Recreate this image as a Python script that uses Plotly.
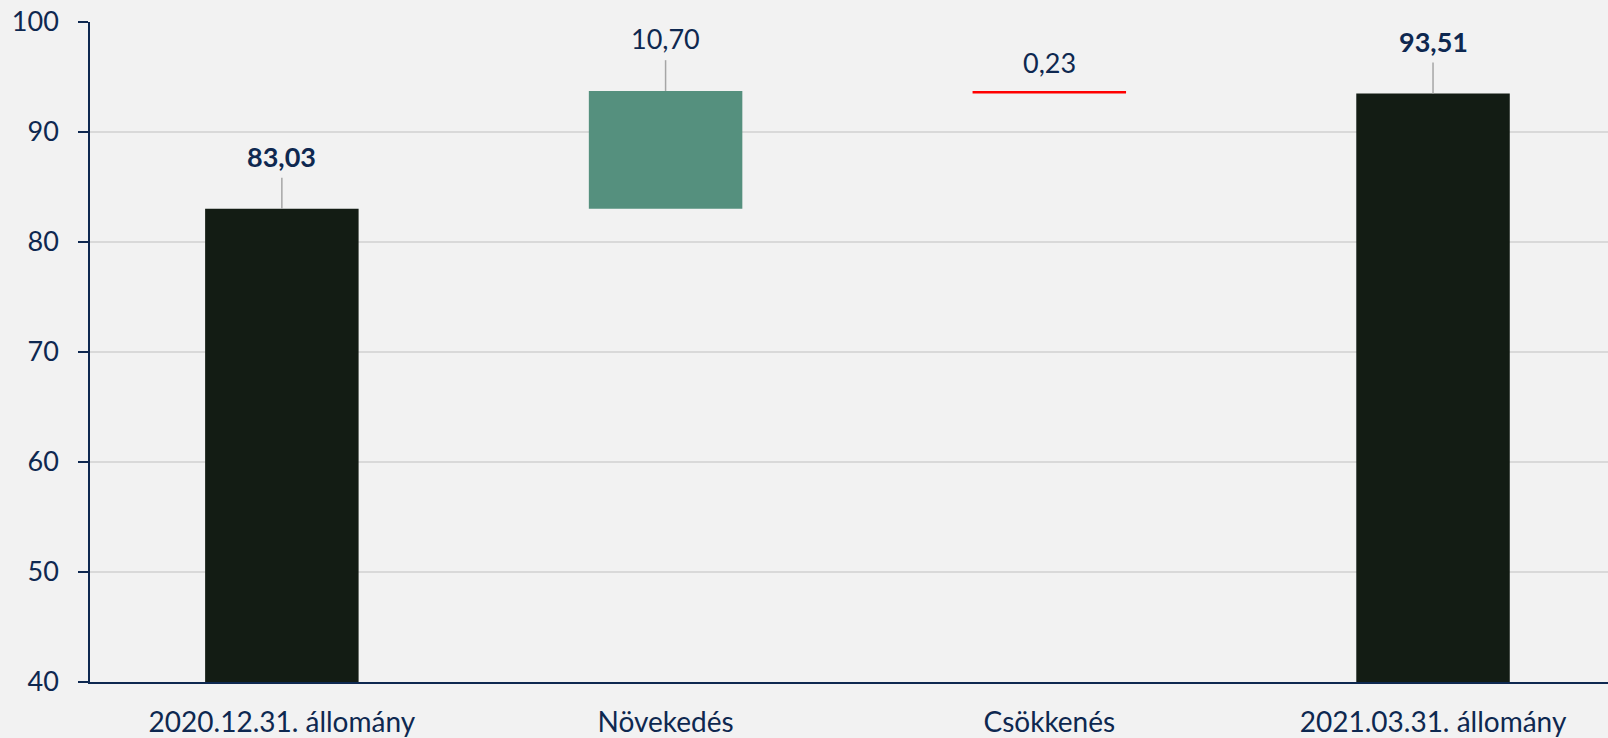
import plotly.graph_objects as go

categories = ["2020.12.31. állomány", "Növekedés", "Csökkenés", "2021.03.31. állomány"]
start_value = 83.03
increase = 10.70
decrease = 0.23
end_value = 93.51
label_texts = ["83,03", "10,70", "0,23", "93,51"]
label_bold = [True, False, False, True]
show_leader = [True, True, False, True]
bar_colors = ["#131C14", "#55907E", "#FF0000", "#131C14"]

bases = [0, start_value, start_value + increase - decrease, 0]
heights = [start_value, increase, decrease, end_value]
tops = [b + h for b, h in zip(bases, heights)]

NAVY = "#0E2850"
FONT = "Lato"
FS = 27

fig = go.Figure()
fig.add_trace(go.Bar(
    x=categories, y=heights, base=bases,
    marker=dict(color=bar_colors, line=dict(width=0)),
    width=0.4, hoverinfo="skip",
))

annotations = []
shapes = []
for i, cat in enumerate(categories):
    txt = f"<b>{label_texts[i]}</b>" if label_bold[i] else label_texts[i]
    shift = 52 if show_leader[i] else 28
    annotations.append(dict(
        x=cat, y=tops[i], xref="x", yref="y", text=txt, showarrow=False,
        yshift=shift, font=dict(family=FONT, size=FS, color=NAVY),
    ))
    if show_leader[i]:
        shapes.append(dict(
            type="line", xref="x", yref="y", x0=i, x1=i,
            y0=tops[i], y1=tops[i] + 2.8,
            line=dict(color="#A6A6A6", width=1.5),
        ))

fig.update_layout(
    width=1608, height=738,
    margin=dict(l=90, r=0, t=22, b=56),
    paper_bgcolor="#F2F2F2", plot_bgcolor="#F2F2F2",
    showlegend=False, bargap=0.6,
    font=dict(family=FONT, size=FS, color=NAVY),
    annotations=annotations, shapes=shapes,
)
fig.update_xaxes(
    type="category", range=[-0.5, 3.456], automargin=False,
    showline=True, linecolor=NAVY, linewidth=1.5,
    ticks="", ticklabelstandoff=15,
    tickfont=dict(family=FONT, size=28, color=NAVY),
    showgrid=False, zeroline=False,
)
fig.update_yaxes(
    range=[40, 100], dtick=10, automargin=False,
    showline=True, linecolor=NAVY, linewidth=1.5,
    ticks="outside", ticklen=10, tickcolor=NAVY, tickwidth=1.5,
    ticklabelstandoff=14,
    tickfont=dict(family=FONT, size=FS, color=NAVY),
    showgrid=True, gridcolor="#D9D9D9", gridwidth=1.5, zeroline=False,
)

fig.write_html(
    "out.html",
    config={"displayModeBar": False},
    post_script="document.body.style.margin='0';document.body.style.background='#F2F2F2';",
)
